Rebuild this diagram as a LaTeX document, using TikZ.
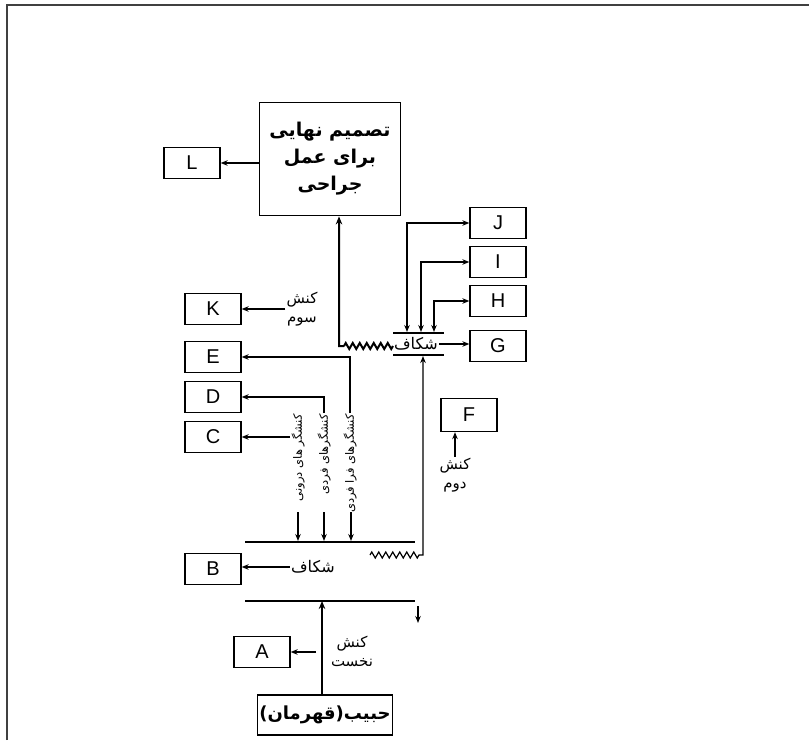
\documentclass[tikz,border=0pt]{standalone}
\usepackage{fontspec}
\setmainfont{Liberation Sans}
\newfontfamily\arabicfont[Script=Arabic]{DejaVu Sans}
\TeXXeTstate=1
\usetikzlibrary{arrows.meta,decorations.pathmorphing}
\tikzset{
  letterBox/.style={draw, line width=1.3pt, minimum width=56pt, minimum height=31pt, inner sep=0pt, font=\fontsize{20}{20}\selectfont},
  bigBox/.style={draw, line width=1.8pt, minimum width=141pt, minimum height=113pt, align=center, font=\arabicfont\bfseries\fontsize{19}{27}\selectfont},
  heroBox/.style={draw, line width=1.5pt, minimum width=135pt, minimum height=40pt, inner sep=2pt, font=\arabicfont\bfseries\fontsize{18}{18}\selectfont},
  actLabel/.style={font=\arabicfont\fontsize{15}{19}\selectfont, align=center, inner sep=1pt},
  gapLabel/.style={font=\arabicfont\fontsize{16}{16}\selectfont, inner sep=1pt},
  vertLabel/.style={font=\arabicfont\fontsize{11.5}{11.5}\selectfont, rotate=90, anchor=east, inner sep=1pt},
  gapLine/.style={line width=1.3pt},
  frameLine/.style={line width=1.3pt, black!75},
  arrow/.style={-{Stealth[length=7pt,width=5.5pt]}, line width=1.2pt},
  dblArrow/.style={{Stealth[length=7pt,width=5.5pt]}-{Stealth[length=7pt,width=5.5pt]}, line width=1.2pt},
  thickArrow/.style={-{Stealth[length=8pt,width=6.5pt]}, line width=2pt},
  spring/.style={decoration={zigzag, segment length=7pt, amplitude=3pt}}
}
\begin{document}
\begin{tikzpicture}[x=1pt,y=-1pt]
  \useasboundingbox (0,0) rectangle (809,740);
  \draw[frameLine] (7,740) -- (7,5) -- (809,5);

  % final decision and upper gap
  \node[bigBox] (final) at (330,159) {\beginR تصمیم نهایی\endR\\\beginR برای عمل\endR\\\beginR جراحی\endR};
  \node[letterBox] (L) at (192,163) {L};
  \draw[arrow] (final.west |- L.east) -- (L.east);

  \node[letterBox] (J) at (498,223) {J};
  \node[letterBox] (I) at (498,262) {I};
  \node[letterBox] (H) at (498,301) {H};
  \node[letterBox] (G) at (498,346) {G};
  \node[letterBox] (K) at (213,309) {K};

  \coordinate (uTopL) at (393,333);
  \coordinate (uTopR) at (444,333);
  \coordinate (uBotL) at (393,355);
  \coordinate (uBotR) at (444,355);
  \draw[gapLine] (uTopL) -- (uTopR);
  \draw[gapLine] (uBotL) -- (uBotR);
  \node[gapLabel] (gapU) at (416,344) {\beginR شکاف\endR};
  \draw[arrow] (gapU.east) -- (gapU.east -| G.west);

  \draw[dblArrow] (407,332) |- (J.west);
  \draw[dblArrow] (421,332) |- (I.west);
  \draw[dblArrow] (434,332) |- (H.west);

  \draw[thickArrow] (393,346) decorate[spring] {-- (344,346)} -- (339,346) -- ([xshift=9pt]final.south);
  \node[actLabel] (act3) at (302,309) {\beginR کنش\endR\\\beginR سوم\endR};
  \draw[arrow] (act3.west) -- (act3.west -| K.east);

  % second act
  \node[letterBox, minimum height=33pt] (F) at (469,415) {F};
  \node[actLabel] (act2) at (455,475) {\beginR کنش\endR\\\beginR دوم\endR};
  \draw[arrow] (act2.north) -- (act2.north |- F.south);
  \coordinate (zzL) at (370,555);
  \draw[arrow] (zzL) decorate[spring] {-- (419,555)} -- (423,555) -- (423,356);

  % actors
  \node[letterBox] (E) at (213,357) {E};
  \node[letterBox] (D) at (213,397) {D};
  \node[letterBox] (C) at (213,437) {C};
  \node[vertLabel] (lblIn) at (298,413) {\beginR کنشگر های درونی\endR};
  \node[vertLabel] (lblInd) at (324,413) {\beginR کنشگرهای فردی\endR};
  \node[vertLabel] (lblSup) at (350,413) {\beginR کنشگرهای فرا فردی\endR};
  \draw[arrow] (lblIn.north east |- C.east) -- (C.east);
  \draw[arrow] (lblInd.east) |- (D.east);
  \draw[arrow] (lblSup.east) |- (E.east);
  \foreach \x in {298,324,351}
    \draw[arrow] (\x,512) -- (\x,541);

  % lower gap
  \coordinate (lTopL) at (245,542);
  \coordinate (lTopR) at (415,542);
  \coordinate (lBotL) at (245,601);
  \coordinate (lBotR) at (415,601);
  \draw[gapLine] (lTopL) -- (lTopR);
  \draw[gapLine] (lBotL) -- (lBotR);
  \node[gapLabel] (gapL) at (313,567) {\beginR شکاف\endR};
  \node[letterBox] (B) at (213,569) {B};
  \draw[arrow] (gapL.west) -- (gapL.west -| B.east);
  \coordinate (sdTop) at (418,606);
  \coordinate (sdEnd) at (418,623);
  \draw[arrow] (sdTop) -- (sdEnd);

  % first act
  \node[letterBox] (A) at (262,652) {A};
  \node[actLabel] (act1) at (352,651) {\beginR کنش\endR\\\beginR نخست\endR};
  \coordinate (a1) at (316,652);
  \draw[arrow] (a1) -- (A.east);
  \node[heroBox] (hero) at (325,715) {)\beginR قهرمان\endR(\beginR حبیب\endR};
  \draw[thickArrow] ([xshift=-3pt]hero.north) -- ([xshift=-3pt]hero.north |- lBotL);
\end{tikzpicture}
\end{document}
